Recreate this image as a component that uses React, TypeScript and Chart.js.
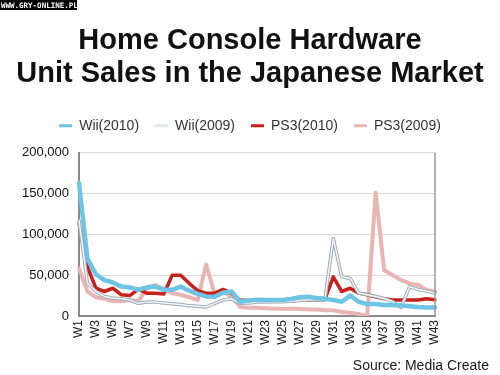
import React, { useEffect, useRef } from 'react';
import { Chart, registerables } from 'chart.js';

Chart.register(...registerables);

const weeks = [
  'W1', 'W2', 'W3', 'W4', 'W5', 'W6', 'W7', 'W8', 'W9', 'W10',
  'W11', 'W12', 'W13', 'W14', 'W15', 'W16', 'W17', 'W18', 'W19', 'W20',
  'W21', 'W22', 'W23', 'W24', 'W25', 'W26', 'W27', 'W28', 'W29', 'W30',
  'W31', 'W32', 'W33', 'W34', 'W35', 'W36', 'W37', 'W38', 'W39', 'W40',
  'W41', 'W42', 'W43',
];

const wii2010 = [
  163000, 70000, 51000, 44000, 41000, 36000, 35000, 32000, 35000, 36000,
  32000, 32000, 36000, 31000, 27000, 24000, 23500, 28500, 30000, 17500,
  19000, 20000, 19500, 19500, 19500, 21000, 23000, 23500, 22000, 21000,
  19500, 17500, 25000, 17500, 14600, 14600, 13500, 13500, 13000, 12000,
  11000, 10500, 10500,
];

const wii2009 = [
  117000, 40000, 30000, 24000, 22000, 21000, 19500, 15500, 17000, 17000,
  16000, 15000, 14000, 12500, 12000, 11000, 15500, 19500, 21000, 15500,
  16000, 17000, 17000, 17500, 17500, 18000, 19000, 20000, 20000, 19500,
  95000, 48000, 46000, 28000, 26000, 24000, 21500, 17500, 10500, 36000,
  32500, 30500, 28000,
];

const ps3_2010 = [
  113000, 60000, 34000, 30000, 34000, 26000, 25000, 33000, 28000, 28000,
  27000, 50000, 50000, 40000, 31000, 28000, 28000, 32500, 28000, 19500,
  19000, 18500, 18500, 18000, 18000, 18500, 19500, 20000, 20000, 20000,
  48000, 30000, 34000, 28000, 26000, 23500, 21000, 19500, 19500, 19500,
  19500, 21000, 20000,
];

const ps3_2009 = [
  58000, 30000, 23000, 21000, 18000, 18000, 19500, 18000, 34000, 38000,
  33000, 28000, 26000, 23000, 19500, 63000, 27000, 30000, 23500, 11000,
  10000, 10000, 9500, 9000, 9000, 9000, 8500, 8000, 8000, 7000,
  7000, 5000, 4000, 2400, 0, 151000, 56000, 50000, 44000, 40000,
  38000, 32000, 30000,
];

const seriesNames = ['Wii(2010)', 'Wii(2009)', 'PS3(2010)', 'PS3(2009)'];
const titleLines = ['Home Console Hardware', 'Unit Sales in the Japanese Market'];
const sourceText = 'Source: Media Create';
const watermarkText = 'WWW.GRY-ONLINE.PL';
const yTicks = [0, 50000, 100000, 150000, 200000];

const FONT = "'Liberation Sans', Arial, sans-serif";

export default function App() {
  const ref = useRef<HTMLCanvasElement>(null);

  useEffect(() => {
    if (!ref.current) return;

    const extras = {
      id: 'extras',
      beforeLayout(chart: any) {
        const lg = chart.legend;
        if (lg && !lg.__patched) {
          const orig = lg.fit;
          lg.fit = function () {
            orig.call(this);
            this.height += 10;
          };
          lg.__patched = true;
        }
      },
      afterDraw(chart: any) {
        const ctx = chart.ctx;
        const a = chart.chartArea;
        ctx.save();
        ctx.strokeStyle = '#9a9a9a';
        ctx.lineWidth = 1.5;
        ctx.beginPath();
        ctx.moveTo(a.right, a.top);
        ctx.lineTo(a.right, a.bottom);
        ctx.stroke();
        ctx.fillStyle = '#1a1a1a';
        ctx.font = `14px ${FONT}`;
        ctx.textAlign = 'right';
        ctx.textBaseline = 'alphabetic';
        ctx.fillText(sourceText, 489, 370);
        ctx.fillStyle = '#000';
        ctx.fillRect(0, 0, 77, 10);
        ctx.fillStyle = '#fff';
        ctx.font = "bold 7.5px 'DejaVu Sans Mono', monospace";
        ctx.textAlign = 'left';
        ctx.fillText(watermarkText, 1, 8);
        ctx.restore();
      },
    };

    const chart = new Chart(ref.current, {
      type: 'line',
      data: {
        labels: weeks,
        datasets: [
          {
            label: seriesNames[0],
            data: wii2010,
            borderColor: '#6ec4e4',
            backgroundColor: '#6ec4e4',
            borderWidth: 4.5,
          },
          {
            label: seriesNames[1],
            data: wii2009,
            borderColor: '#eef4f7',
            backgroundColor: '#dfeaf0',
            borderWidth: 1.5,
          },
          {
            label: '__shadow',
            data: wii2009,
            borderColor: '#a3adb5',
            backgroundColor: '#a3adb5',
            borderWidth: 3.5,
          },
          {
            label: seriesNames[2],
            data: ps3_2010,
            borderColor: '#c4221a',
            backgroundColor: '#c4221a',
            borderWidth: 3.5,
          },
          {
            label: seriesNames[3],
            data: ps3_2009,
            borderColor: '#e9b4b4',
            backgroundColor: '#e9b4b4',
            borderWidth: 4,
          },
        ],
      },
      options: {
        animation: false,
        responsive: true,
        maintainAspectRatio: false,
        layout: { padding: 0 },
        elements: {
          point: { radius: 0, hoverRadius: 0 },
          line: { tension: 0, borderJoinStyle: 'round', borderCapStyle: 'round' },
        },
        plugins: {
          title: {
            display: true,
            text: titleLines,
            color: '#111',
            font: { family: FONT, size: 29, weight: 'bold', lineHeight: 1.15 },
            padding: { top: 24, bottom: 12 },
          },
          legend: {
            display: true,
            position: 'top',
            labels: {
              color: '#333',
              font: { family: FONT, size: 14 },
              boxWidth: 13,
              boxHeight: 3,
              padding: 16,
              filter: (item: any) => item.text !== '__shadow',
              generateLabels: (chart: any) => {
                const base = Chart.defaults.plugins.legend.labels.generateLabels(chart);
                return base.map((l: any) => ({ ...l, lineWidth: 0 }));
              },
            },
          },
          tooltip: { enabled: false },
        },
        scales: {
          x: {
            grid: { display: false, drawTicks: false },
            border: { display: true, color: '#8a8a8a', width: 2 },
            ticks: {
              autoSkip: false,
              minRotation: 90,
              maxRotation: 90,
              padding: 4,
              color: '#222',
              font: { family: FONT, size: 12 },
              callback: (_v: any, i: number) => (i % 2 === 0 ? weeks[i] : ''),
            },
            afterFit: (s: any) => {
              s.height = 59;
            },
          },
          y: {
            min: 0,
            max: 200000,
            grid: { color: '#dadada', lineWidth: 1, drawTicks: false },
            border: { display: true, color: '#8a8a8a', width: 2 },
            afterBuildTicks: (s: any) => {
              s.ticks = yTicks.map((v) => ({ value: v }));
            },
            ticks: {
              padding: 10,
              color: '#111',
              font: { family: FONT, size: 13 },
              callback: (v: any) => Number(v).toLocaleString('en-US'),
            },
            afterFit: (s: any) => {
              s.width = 79;
            },
          },
          yRight: {
            position: 'right',
            min: 0,
            max: 1,
            grid: { display: false, drawTicks: false },
            border: { display: false },
            ticks: { display: false },
            afterFit: (s: any) => {
              s.width = 65;
            },
          },
        },
      },
      plugins: [extras],
    });

    return () => chart.destroy();
  }, []);

  return (
    <div
      style={{
        position: 'absolute',
        left: 0,
        top: 0,
        width: 500,
        height: 375,
        background: '#fff',
      }}
    >
      <canvas ref={ref} />
    </div>
  );
}
